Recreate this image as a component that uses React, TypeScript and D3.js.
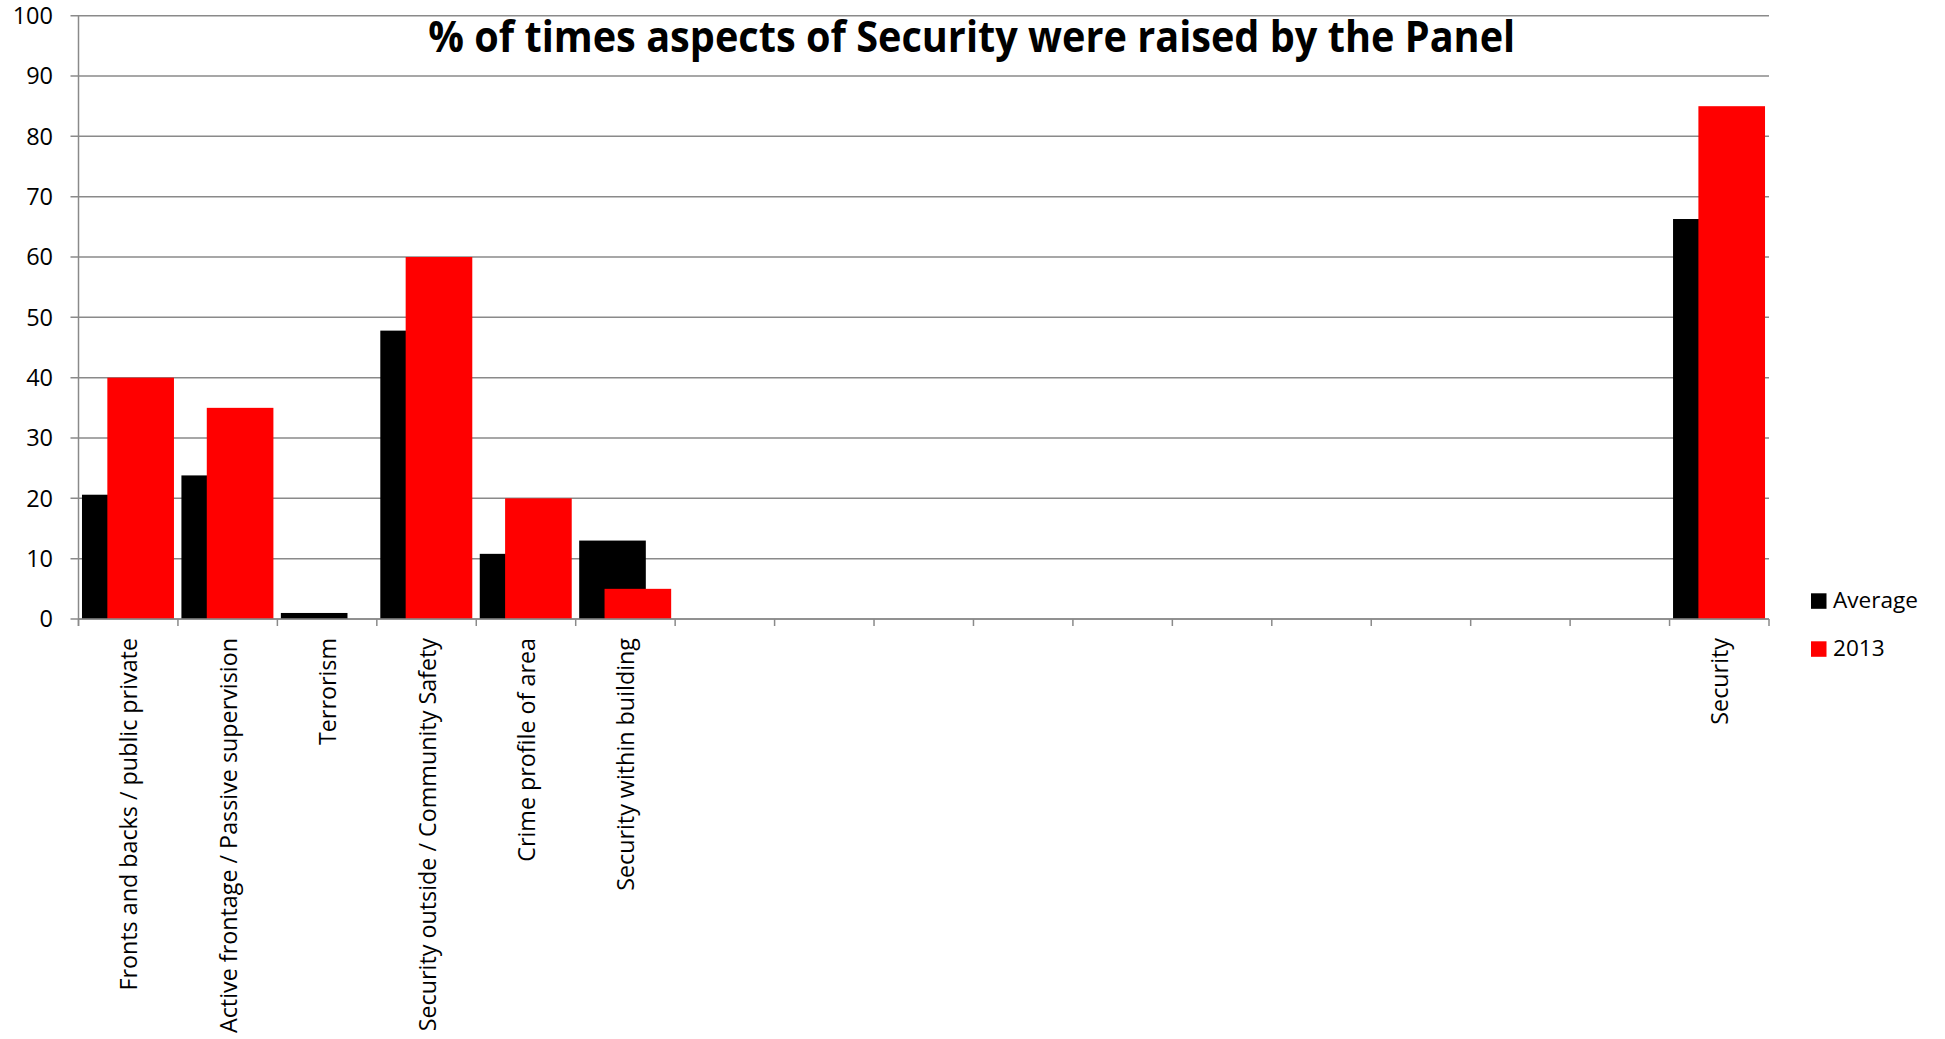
import React from "react";
import * as d3 from "d3";

const categories: string[] = [
  "Fronts and backs / public private",
  "Active frontage / Passive supervision",
  "Terrorism",
  "Security outside / Community Safety",
  "Crime profile of area",
  "Security within building",
  "", "", "", "", "", "", "", "", "", "",
  "Security",
];
const averageValues: (number | null)[] = [20.6, 23.8, 1.0, 47.8, 10.8, 13.0, null, null, null, null, null, null, null, null, null, null, 66.3];
const values2013: (number | null)[] = [40, 35, 0, 60, 20, 5, null, null, null, null, null, null, null, null, null, null, 85];
const yTicks: number[] = [0, 10, 20, 30, 40, 50, 60, 70, 80, 90, 100];
const seriesNames: string[] = ["Average", "2013"];
const seriesColors: string[] = ["#000000", "#ff0000"];
const titleText = "% of times aspects of Security were raised by the Panel";

const W = 1945;
const H = 1039;
const left = 78.5;
const right = 1769;
const top = 15.7;
const bottom = 619;
const grid = "#8a8a8a";
const font = "'Open Sans', sans-serif";

export default function App() {
  const x = d3.scaleBand<number>().domain(categories.map((_, i) => i)).range([left, right]).padding(0);
  const y = d3.scaleLinear().domain([0, 100]).range([bottom, top]);
  const step = x.step();
  const barW = step * 0.67;
  const offsets = [0.035, 0.29];
  const series = [averageValues, values2013];

  return (
    <svg width={W} height={H} style={{ position: "absolute", left: 0, top: 0, background: "#fff" }}>
      {yTicks.map((t) => (
        <g key={"g" + t}>
          <line x1={left - 8} x2={right} y1={y(t)} y2={y(t)} stroke={grid} strokeWidth={1.5} />
          <text x={53} y={y(t)} dy="0.35em" textAnchor="end" fontFamily={font} fontSize={23.5} fill="#000">
            {t}
          </text>
        </g>
      ))}
      <line x1={left} x2={left} y1={top} y2={bottom + 7} stroke={grid} strokeWidth={1.5} />
      {d3.range(categories.length + 1).map((i) => {
        const xx = i < categories.length ? (x(i) as number) : right;
        return <line key={"t" + i} x1={xx} x2={xx} y1={bottom} y2={bottom + 7} stroke={grid} strokeWidth={1.5} />;
      })}
      {series.map((vals, si) =>
        vals.map((v, i) =>
          v == null || v <= 0 ? null : (
            <rect
              key={si + "-" + i}
              x={(x(i) as number) + step * offsets[si]}
              y={y(v)}
              width={barW}
              height={y(0) - y(v)}
              fill={seriesColors[si]}
            />
          )
        )
      )}
      <line x1={left} x2={right} y1={bottom} y2={bottom} stroke={grid} strokeWidth={1.5} />
      {categories.map((c, i) =>
        c ? (
          <text
            key={"c" + i}
            transform={`translate(${(x(i) as number) + step / 2 + 9},${638}) rotate(-90)`}
            textAnchor="end"
            fontFamily={font}
            fontSize={23.3}
            fill="#000"
          >
            {c}
          </text>
        ) : null
      )}
      <text
        x={971.7}
        y={52.3}
        textAnchor="middle"
        fontFamily={font}
        fontWeight="bold"
        fontSize={43}
        textLength={1087}
        lengthAdjust="spacingAndGlyphs"
        fill="#000"
      >
        {titleText}
      </text>
      {seriesNames.map((n, i) => (
        <g key={"l" + i} transform={`translate(1811,${593.3 + i * 48})`}>
          <rect x={0} y={0} width={15.5} height={15.5} fill={seriesColors[i]} />
          <text x={22} y={14.5} fontFamily={font} fontSize={22.6} fill="#000">
            {n}
          </text>
        </g>
      ))}
    </svg>
  );
}
